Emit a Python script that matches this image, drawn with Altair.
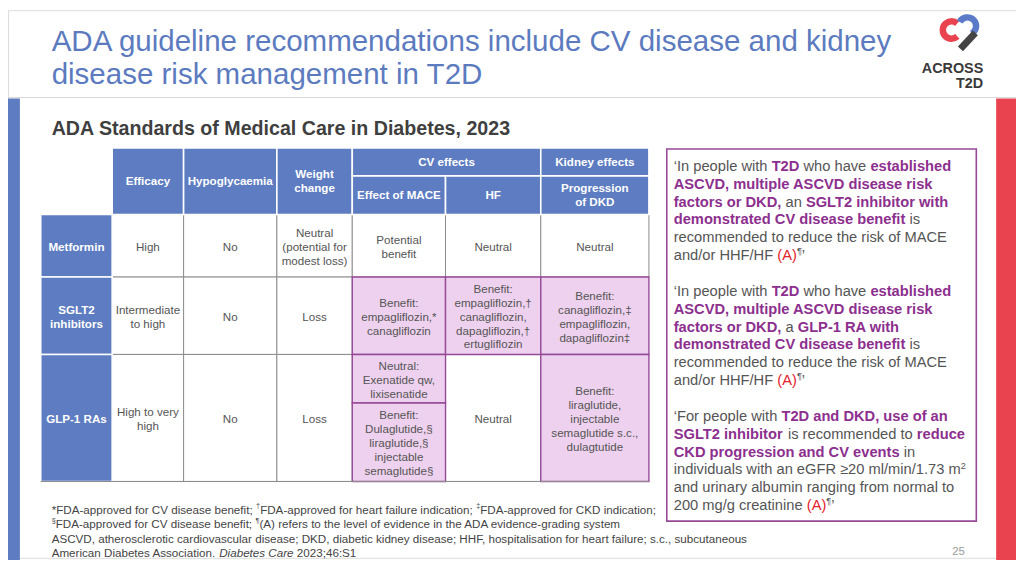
import altair as alt
import pandas as pd

# ---------------- content ----------------
TITLE = ["ADA guideline recommendations include CV disease and kidney",
         "disease risk management in T2D"]
SUBTITLE = "ADA Standards of Medical Care in Diabetes, 2023"
LOGO_WORDS = ["ACROSS", "T2D"]
PAGE_NO = "25"

COL_HEADERS = ["Efficacy", "Hypoglycaemia", "Weight\nchange"]
GROUP_HEADERS = ["CV effects", "Kidney effects"]
SUB_HEADERS = ["Effect of MACE", "HF", "Progression\nof DKD"]
ROW_LABELS = ["Metformin", "SGLT2\ninhibitors", "GLP-1 RAs"]

METFORMIN_CELLS = ["High", "No", "Neutral\n(potential for\nmodest loss)",
                   "Potential\nbenefit", "Neutral", "Neutral"]
SGLT2_CELLS = ["Intermediate\nto high", "No", "Loss",
               "Benefit:\nempagliflozin,*\ncanagliflozin",
               "Benefit:\nempagliflozin,\u2020\ncanagliflozin,\ndapagliflozin,\u2020\nertugliflozin",
               "Benefit:\ncanagliflozin,\u2021\nempagliflozin,\ndapagliflozin\u2021"]
GLP1_CELLS = ["High to very\nhigh", "No", "Loss",
              ["Neutral:\nExenatide qw,\nlixisenatide",
               "Benefit:\nDulaglutide,\u00a7\nliraglutide,\u00a7\ninjectable\nsemaglutide\u00a7"],
              "Neutral",
              "Benefit:\nliraglutide,\ninjectable\nsemaglutide s.c.,\ndulagtutide"]
BENEFIT_FLAGS = [[0, 0, 0, 0, 0, 0],
                 [0, 0, 0, 1, 1, 1],
                 [0, 0, 0, 1, 0, 1]]

# rich text: (style, text)  g=plain, b=bold purple, r=red, s=superscript
QUOTE_1 = [
    [("g", "\u2018In people with "), ("b", "T2D"), ("g", " who have "), ("b", "established")],
    [("b", "ASCVD, multiple ASCVD disease risk")],
    [("b", "factors or DKD,"), ("g", " an "), ("b", "SGLT2 inhibitor with")],
    [("b", "demonstrated CV disease benefit"), ("g", " is")],
    [("g", "recommended to reduce the risk of MACE")],
    [("g", "and/or HHF/HF "), ("r", "(A)"), ("s", "\u00b6"), ("g", "\u2019")],
]
QUOTE_2 = [
    [("g", "\u2018In people with "), ("b", "T2D"), ("g", " who have "), ("b", "established")],
    [("b", "ASCVD, multiple ASCVD disease risk")],
    [("b", "factors or DKD,"), ("g", " a "), ("b", "GLP-1 RA with")],
    [("b", "demonstrated CV disease benefit"), ("g", " is")],
    [("g", "recommended to reduce the risk of MACE")],
    [("g", "and/or HHF/HF "), ("r", "(A)"), ("s", "\u00b6"), ("g", "\u2019")],
]
QUOTE_3 = [
    [("g", "\u2018For people with "), ("b", "T2D and DKD, use of an")],
    [("b", "SGLT2 inhibitor"), ("g", " is recommended to "), ("b", "reduce")],
    [("b", "CKD progression and CV events"), ("g", " in")],
    [("g", "individuals with an eGFR \u226520 ml/min/1.73 m"), ("s", "2")],
    [("g", "and urinary albumin ranging from normal to")],
    [("g", "200 mg/g creatinine "), ("r", "(A)"), ("s", "\u00b6"), ("g", "\u2019")],
]
FOOTNOTES = [
    [("g", "*FDA-approved for CV disease benefit; "), ("s", "\u2020"),
     ("g", "FDA-approved for heart failure indication; "), ("s", "\u2021"),
     ("g", "FDA-approved for CKD indication;")],
    [("s", "\u00a7"), ("g", "FDA-approved for CV disease benefit; "), ("s", "\u00b6"),
     ("g", "(A) refers to the level of evidence in the ADA evidence-grading system")],
    [("g", "ASCVD, atherosclerotic cardiovascular disease; DKD, diabetic kidney disease; "
           "HHF, hospitalisation for heart failure; s.c., subcutaneous")],
    [("g", "American Diabetes Association. "), ("i", "Diabetes Care"), ("g", " 2023;46:S1")],
]

# ---------------- layout / style ----------------
W, H = 1016, 552
X0, Y0 = 8, 8
XS = alt.Scale(domain=[X0, X0 + W], nice=False, zero=False)
YS = alt.Scale(domain=[Y0, Y0 + H], nice=False, zero=False, reverse=True)
FONT = "Liberation Sans"

BLUE = "#5D7CC1"
TITLE_BLUE = "#5C7BBF"
PINK = "#EED1EE"
PURPLE_LINE = "#954A98"
PURPLE_TEXT = "#8C2F8E"
RED_BAR = "#E8434E"
RED_TEXT = "#E3222B"
GRAY_TEXT = "#555555"
GRID = "#8C8C8C"

COL_X = [41, 113, 185, 279, 355, 449, 545, 654]
HEAD_Y = [147, 175, 214]
ROW_Y = [214, 277, 355, 483]
GLP1_SPLIT_Y = 404
BOX = (672, 148, 984, 523)
TABLE_FS = 11.7
TABLE_LH = 14

# Helvetica/Arial advance widths (1/1000 em)
UP = "ABCDEFGHIJKLMNOPQRSTUVWXYZ"
LO = "abcdefghijklmnopqrstuvwxyz"
REG_UP = [667, 667, 722, 722, 667, 611, 778, 722, 278, 500, 667, 556, 833, 722, 778, 667, 778, 722, 667, 611, 722, 667, 944, 667, 667, 611]
REG_LO = [556, 556, 500, 556, 556, 278, 556, 556, 222, 222, 500, 222, 833, 556, 556, 556, 556, 333, 500, 278, 556, 500, 722, 500, 500, 500]
BOLD_UP = [722, 722, 722, 722, 667, 611, 778, 722, 278, 556, 722, 611, 833, 722, 778, 667, 778, 722, 667, 611, 722, 667, 944, 667, 667, 611]
BOLD_LO = [556, 611, 556, 611, 556, 333, 611, 611, 278, 278, 556, 278, 889, 611, 611, 611, 611, 389, 556, 333, 611, 556, 778, 556, 556, 500]
PUNCT = {" ": 278, ",": 278, ".": 278, ";": 278, ":": 278, "-": 333, "(": 333, ")": 333,
         "/": 278, "*": 389, "\u2018": 222, "\u2019": 222, "\u2265": 549, "\u00b6": 537,
         "\u00b2": 333, "\u2020": 556, "\u2021": 556, "\u00a7": 556}
REG = dict(zip(UP, REG_UP)); REG.update(zip(LO, REG_LO)); REG.update(PUNCT)
BOLD = dict(zip(UP, BOLD_UP)); BOLD.update(zip(LO, BOLD_LO)); BOLD.update(PUNCT)
BOLD.update({":": 333, ";": 333})
for d in "0123456789":
    REG[d] = 556
    BOLD[d] = 556


def em(text, bold=False):
    t = BOLD if bold else REG
    return sum(t.get(ch, 556) for ch in text) / 1000.0


rows = {"n": [], "b": [], "i": []}
COLORS = {"g": GRAY_TEXT, "b": PURPLE_TEXT, "r": RED_TEXT, "s": GRAY_TEXT, "i": GRAY_TEXT}


def rich(lines, x0, y0, step, size, colors):
    for k, line in enumerate(lines):
        x = x0
        y = y0 + k * step
        for style, s in line:
            bold = style == "b"
            if style == "s":
                sz, dy = size * 0.62, -size * 0.33
            else:
                sz, dy = size, 0
            lead = em(s[:len(s) - len(s.lstrip())], bold) * sz
            txt = s.strip()
            key = "b" if bold else ("i" if style == "i" else "n")
            if txt:
                rows[key].append(dict(x=x + lead, y=y + dy, t=txt, s=sz, c=colors[style]))
            x += em(s, bold) * sz


BOX_FS = 14.8
rich(QUOTE_1, 679, 166, 18, BOX_FS, COLORS)
rich(QUOTE_2, 679, 292, 18, BOX_FS, COLORS)
rich(QUOTE_3, 679, 418, 18, BOX_FS, COLORS)
FOOT_FS = 703 / em(FOOTNOTES[2][0][1])
FOOT_COLORS = dict(COLORS, g="#444444", s="#444444", i="#444444")
rich(FOOTNOTES, 52, 512, 14.3, FOOT_FS, FOOT_COLORS)


def X(f="x"):
    return alt.X(f"{f}:Q", scale=XS, axis=None)


def Y(f="y"):
    return alt.Y(f"{f}:Q", scale=YS, axis=None)


def rect_layer(recs):
    return alt.Chart(pd.DataFrame(recs)).mark_rect().encode(
        x=X(), x2="x2:Q", y=Y(), y2="y2:Q",
        fill=alt.Fill("f:N", scale=None),
        stroke=alt.Stroke("st:N", scale=None),
        strokeWidth=alt.StrokeWidth("sw:Q", scale=None))


def text_layer(recs, align="left", weight="normal", style="normal", lh=None, font=FONT):
    kw = dict(align=align, baseline="middle", font=font, fontWeight=weight, fontStyle=style)
    if lh:
        kw.update(lineBreak="\n", lineHeight=lh)
    return alt.Chart(pd.DataFrame(recs)).mark_text(**kw).encode(
        x=X(), y=Y(), text="t:N",
        size=alt.Size("s:Q", scale=None),
        color=alt.Color("c:N", scale=None))


def centred(x, yc, txt, color):
    """first-line y so that a multi-line block is centred on yc"""
    n = txt.count("\n") + 1
    return dict(x=x, y=yc - (n - 1) * TABLE_LH / 2, t=txt, s=TABLE_FS, c=color)


# ---------- slide frame ----------
frame = rect_layer([
    dict(x=0, x2=20, y=97, y2=576, f=BLUE, st=BLUE, sw=0),
    dict(x=1004, x2=1024, y=97, y2=576, f=RED_BAR, st=RED_BAR, sw=0),
    dict(x=0, x2=1024, y=95.5, y2=96.5, f="#DADADA", st="#DADADA", sw=0),
    dict(x=BOX[0], x2=BOX[2], y=BOX[1], y2=BOX[3], f="white", st=PURPLE_LINE, sw=1.6),
])

# ---------- table cells ----------
white_cells, pink_cells, blue_cells = [], [], []
cell_text, head_text = [], []
body_rows = [METFORMIN_CELLS, SGLT2_CELLS, GLP1_CELLS]
for r, cells in enumerate(body_rows):
    y1, y2 = ROW_Y[r], ROW_Y[r + 1]
    for c, content in enumerate(cells):
        x1, x2 = COL_X[c + 1], COL_X[c + 2]
        target = pink_cells if BENEFIT_FLAGS[r][c] else white_cells
        if isinstance(content, list):
            splits = [(y1, GLP1_SPLIT_Y), (GLP1_SPLIT_Y, y2)]
        else:
            splits = [(y1, y2)]
            content = [content]
        for (a, b), txt in zip(splits, content):
            if BENEFIT_FLAGS[r][c]:
                target.append(dict(x=x1, x2=x2, y=a, y2=b, f=PINK, st=PURPLE_LINE, sw=1.4))
            else:
                target.append(dict(x=x1, x2=x2, y=a, y2=b, f="white", st=GRID, sw=1))
            cell_text.append(centred((x1 + x2) / 2, (a + b) / 2 + 1, txt, GRAY_TEXT))
    # row label
    blue_cells.append(dict(x=COL_X[0], x2=COL_X[1], y=y1, y2=y2, f=BLUE, st="white", sw=1.6))
    head_text.append(centred((COL_X[0] + COL_X[1]) / 2, (y1 + y2) / 2 + 1, ROW_LABELS[r], "white"))

for c, h in enumerate(COL_HEADERS):
    x1, x2 = COL_X[c + 1], COL_X[c + 2]
    blue_cells.append(dict(x=x1, x2=x2, y=HEAD_Y[0], y2=HEAD_Y[2], f=BLUE, st="white", sw=1.6))
    head_text.append(centred((x1 + x2) / 2, (HEAD_Y[0] + HEAD_Y[2]) / 2, h, "white"))
group_spans = [(COL_X[4], COL_X[6]), (COL_X[6], COL_X[7])]
for (x1, x2), h in zip(group_spans, GROUP_HEADERS):
    blue_cells.append(dict(x=x1, x2=x2, y=HEAD_Y[0], y2=HEAD_Y[1], f=BLUE, st="white", sw=1.6))
    head_text.append(centred((x1 + x2) / 2, (HEAD_Y[0] + HEAD_Y[1]) / 2, h, "white"))
for c, h in enumerate(SUB_HEADERS):
    x1, x2 = COL_X[c + 4], COL_X[c + 5]
    blue_cells.append(dict(x=x1, x2=x2, y=HEAD_Y[1], y2=HEAD_Y[2], f=BLUE, st="white", sw=1.6))
    head_text.append(centred((x1 + x2) / 2, (HEAD_Y[1] + HEAD_Y[2]) / 2, h, "white"))

bottom_line = rect_layer([dict(x=COL_X[0], x2=COL_X[-1], y=ROW_Y[-1] - 0.5, y2=ROW_Y[-1] + 0.5,
                               f=GRID, st=GRID, sw=0)])

# ---------- titles ----------
title_fs = 848 / em(TITLE[0])
sub_fs = 463 / em(SUBTITLE, True)
title_rows = [dict(x=52, y=40, t=TITLE[0], s=title_fs, c=TITLE_BLUE),
              dict(x=52, y=73, t=TITLE[1], s=title_fs, c=TITLE_BLUE)]
sub_rows = [dict(x=52, y=128, t=SUBTITLE, s=sub_fs, c="#3F3F3F")]
logo_text = [dict(x=991, y=67, t=LOGO_WORDS[0], s=14.5, c="#3A3A3A"),
             dict(x=991, y=82, t=LOGO_WORDS[1], s=14.5, c="#3A3A3A")]
page_rows = [dict(x=966, y=554, t=PAGE_NO, s=11.5, c="#9A9A9A")]

# ---------- logo marks ----------
logo_red = alt.Chart(pd.DataFrame([dict(x=959, y=28)])).mark_arc(
    radius=12, radius2=5.5, theta=2.4, theta2=7.0, color=RED_BAR).encode(x=X(), y=Y())
logo_blue = alt.Chart(pd.DataFrame([dict(x=975, y=24)])).mark_arc(
    radius=12, radius2=5.5, theta=5.2, theta2=8.9, color="#5B7BC8").encode(x=X(), y=Y())
logo_gray = alt.Chart(pd.DataFrame([dict(x=983, y=31, x2=968, y2=47)])).mark_rule(
    strokeWidth=7, color="#444444", strokeCap="butt").encode(x=X(), y=Y(), x2="x2:Q", y2="y2:Q")

layers = [
    frame,
    rect_layer(white_cells),
    rect_layer(pink_cells),
    rect_layer(blue_cells),
    bottom_line,
    text_layer(cell_text, align="center", lh=TABLE_LH),
    text_layer(head_text, align="center", weight="bold", lh=TABLE_LH),
    text_layer(title_rows),
    text_layer(sub_rows, weight="bold"),
    text_layer(rows["n"]),
    text_layer(rows["b"], weight="bold"),
    text_layer(rows["i"], style="italic"),
    text_layer(logo_text, align="right", weight="bold"),
    text_layer(page_rows, align="center"),
    logo_red, logo_blue, logo_gray,
]

chart = alt.layer(*layers).properties(
    width=W, height=H, padding=0, autosize="none"
).configure_view(stroke=None).configure(background="white")

chart.save("out.html", embed_options={"renderer": "svg", "actions": False})
